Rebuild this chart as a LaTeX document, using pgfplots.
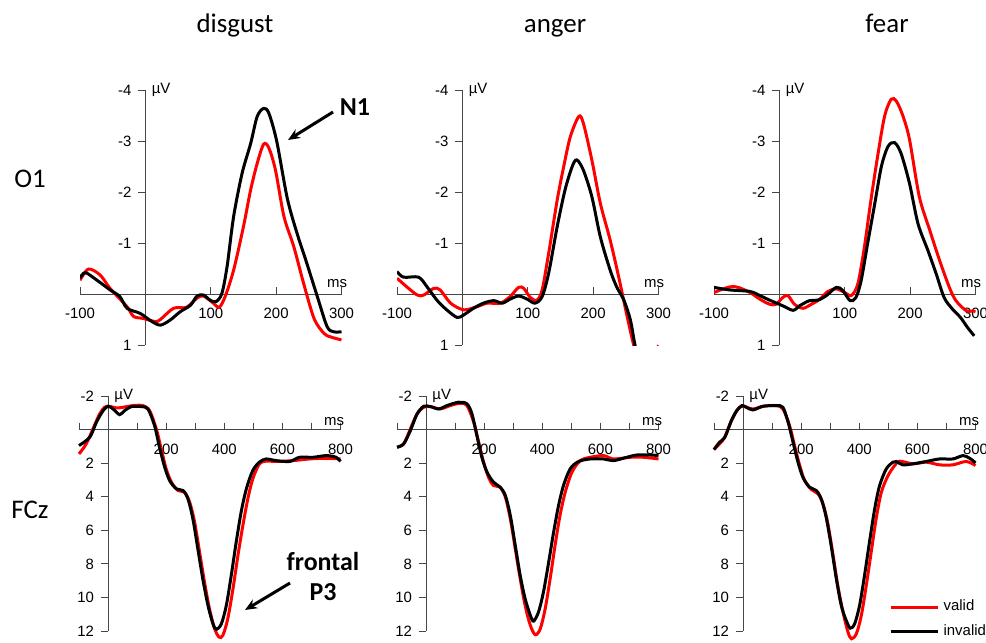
\documentclass[border=0pt]{standalone}
\usepackage{pgfplots}
\pgfplotsset{compat=1.18}
\usepackage{fontspec}
\setmainfont{Liberation Sans}
\newfontfamily\calibri{Carlito}
\usetikzlibrary{arrows.meta}
\definecolor{axgray}{RGB}{70,70,70}
\newcommand{\tickfont}{\fontsize{7.5}{8.5}\selectfont}
\pgfplotsset{
  erp/.style={
    scale only axis, clip=true, clip mode=individual,
    axis lines=middle,
    axis line style={-, axgray, line width=0.5bp},
    every inner x axis line/.append style={-},
    every inner y axis line/.append style={-},
    y dir=reverse,
    tick style={axgray, line width=0.5bp},
    tick align=outside,
    major tick length=3.5bp,
    tick label style={font=\tickfont},
    /pgf/number format/assume math mode=true,
  },
  top/.style={erp, width=130.75bp, height=127.5bp,
    xmin=-100, xmax=300, ymin=-4, ymax=1,
    xtick={-100,0,100,200,300}, xticklabels={-100,,100,200,300},
    ytick={-4,-3,-2,-1,0,1}, yticklabels={-4,-3,-2,-1,,1},
    anchor=south west},
  bot/.style={erp, width=130.75bp, height=117.5bp, clip=false,
    xmin=-100, xmax=800, ymin=-2, ymax=12,
    xtick={-100,0,100,200,300,400,500,600,700,800}, xticklabels={,,,200,,400,,600,,800},
    ytick={-2,0,2,4,6,8,10,12}, yticklabels={-2,,2,4,6,8,10,12},
    anchor=south west},
  valid/.style={red, line width=1.5bp, smooth},
  invalid/.style={black, line width=1.5bp, smooth},
}
\begin{document}
\begin{tikzpicture}[x=0.5bp,y=-0.5bp]
\useasboundingbox (0,0) rectangle (986,643);

% ---------- O1 disgust ----------
\begin{axis}[top, at={(40bp,-172.5bp)}]
\addplot[valid] table {
-100 -0.27
-87 -0.49
-69 -0.37
-54 -0.11
-28 0.25
-18 0.44
-3 0.48
15 0.54
23 0.50
43 0.28
63 0.26
79 0.08
89 0.04
104 0.18
113 0.26
122 0.05
135 -0.47
150 -1.32
161 -2.04
171 -2.56
181 -2.94
189 -2.86
199 -2.43
212 -1.52
227 -0.93
242 -0.21
258 0.48
273 0.77
283 0.84
300 0.90
};
\addplot[invalid] table {
-100 -0.31
-92 -0.42
-74 -0.27
-54 -0.08
-39 0.05
-28 0.28
-8 0.38
10 0.54
23 0.61
38 0.51
53 0.35
69 0.22
79 0.04
89 0.02
99 0.12
108 0.15
117 -0.01
125 -0.54
135 -1.52
148 -2.37
161 -2.95
171 -3.48
181 -3.64
189 -3.54
201 -2.99
217 -1.88
232 -1.19
247 -0.60
263 0.05
278 0.64
288 0.74
300 0.74
};
\node[anchor=west, font=\tickfont, inner sep=0pt] at (axis cs:0,-4) [xshift=3bp] {µV};
\node[anchor=south east, font=\tickfont, inner sep=0pt] at (axis cs:300,0) [xshift=3bp, yshift=3bp] {ms};
\end{axis}

% ---------- O1 anger ----------
\begin{axis}[top, at={(198.5bp,-172.5bp)}]
\addplot[valid] table {
-100 -0.31
-85 -0.14
-69 0.02
-59 0.02
-44 -0.11
-34 -0.08
-18 0.18
2 0.31
22 0.25
38 0.18
58 0.18
73 0.05
86 -0.13
94 -0.11
104 0.07
114 0.12
122 -0.08
132 -0.80
145 -1.84
155 -2.50
165 -3.08
178 -3.48
185 -3.35
198 -2.63
211 -1.78
226 -1.06
239 -0.34
252 0.44
262 1.00
275 1.60
290 1.40
300 1.00
};
\addplot[invalid] table {
-100 -0.44
-90 -0.33
-67 -0.33
-54 -0.14
-39 0.12
-24 0.31
-8 0.46
2 0.41
17 0.28
32 0.18
48 0.13
61 0.18
73 0.10
86 0.04
99 0.10
111 0.18
122 0.05
132 -0.41
145 -1.32
157 -2.04
168 -2.50
175 -2.63
185 -2.43
198 -1.91
211 -1.12
226 -0.47
236 -0.14
247 0.12
257 0.51
264 1.00
275 1.60
};
\node[anchor=west, font=\tickfont, inner sep=0pt] at (axis cs:0,-4) [xshift=3bp] {µV};
\node[anchor=south east, font=\tickfont, inner sep=0pt] at (axis cs:300,0) [xshift=3bp, yshift=3bp] {ms};
\end{axis}

% ---------- O1 fear ----------
\begin{axis}[top, at={(357bp,-172.5bp)}]
\addplot[valid] table {
-100 -0.03
-76 -0.14
-63 -0.13
-45 -0.03
-30 0.10
-15 0.20
-5 0.20
5 0.07
13 0.03
23 0.20
36 0.28
49 0.20
62 0.10
74 -0.05
87 -0.10
100 -0.03
110 0.03
120 -0.20
130 -0.92
140 -1.84
151 -2.76
161 -3.49
171 -3.82
179 -3.78
189 -3.49
199 -3.03
214 -1.91
230 -1.25
245 -0.66
260 -0.13
270 0.13
286 0.33
296 0.33
300 0.35
};
\addplot[invalid] table {
-100 -0.13
-76 -0.08
-45 -0.05
-30 0.03
-15 0.12
5 0.23
21 0.32
31 0.23
46 0.13
59 0.12
72 0.03
87 -0.13
97 -0.07
108 0.13
117 0.07
125 -0.26
135 -0.99
146 -1.78
156 -2.50
166 -2.89
176 -2.97
186 -2.76
199 -2.17
212 -1.38
227 -0.86
240 -0.39
252 0.07
265 0.30
277 0.46
288 0.66
298 0.82
};
\node[anchor=west, font=\tickfont, inner sep=0pt] at (axis cs:0,-4) [xshift=3bp] {µV};
\node[anchor=south east, font=\tickfont, inner sep=0pt] at (axis cs:300,0) [xshift=3bp, yshift=3bp] {ms};
\end{axis}

% ---------- FCz disgust ----------
\begin{axis}[bot, at={(39.5bp,-315.5bp)}]
\addplot[valid] table {
-100 1.45
-75 0.85
-52 -0.04
-29 -0.93
-12 -1.33
5 -1.39
28 -1.29
51 -1.33
86 -1.43
120 -1.43
143 -1.13
166 -0.04
183 1.15
200 2.34
218 3.13
241 3.63
263 3.73
281 4.33
298 5.52
315 7.30
332 9.09
349 10.67
367 11.87
382 12.36
395 12.26
412 11.27
430 9.48
447 7.50
464 5.71
481 4.13
498 2.94
521 2.04
544 1.88
579 1.90
636 1.85
693 1.75
751 1.71
800 1.75
};
\addplot[invalid] table {
-100 0.95
-63 0.46
-40 -0.44
-17 -1.13
0 -1.39
17 -1.23
40 -0.89
57 -1.13
80 -1.37
114 -1.37
137 -1.23
160 -0.24
177 1.05
195 2.24
212 3.04
235 3.53
258 3.63
275 4.13
292 5.32
309 7.10
326 8.89
344 10.48
361 11.57
373 11.90
390 11.57
407 10.48
424 8.69
441 6.71
458 4.92
476 3.53
498 2.44
521 1.94
544 1.75
579 1.85
625 1.90
659 1.65
705 1.65
751 1.55
785 1.65
800 1.90
};
\node[anchor=west, font=\tickfont, inner sep=0pt] at (axis cs:0,-2) [xshift=3bp] {µV};
\node[anchor=south east, font=\tickfont, inner sep=0pt] at (axis cs:800,0) [xshift=2bp, yshift=2bp] {ms};
\end{axis}

% ---------- FCz anger ----------
\begin{axis}[bot, at={(198.5bp,-315.5bp)}]
\addplot[valid] table {
-100 1.05
-77 0.85
-54 -0.04
-31 -0.93
-8 -1.33
15 -1.37
49 -1.23
83 -1.43
118 -1.57
141 -1.43
164 -0.44
181 0.75
198 1.94
215 2.84
232 3.33
255 3.43
273 4.03
290 5.32
307 7.10
324 8.89
341 10.48
359 11.67
376 12.22
393 11.87
410 10.67
427 8.89
444 6.90
461 5.12
479 3.73
502 2.54
531 1.85
565 1.65
611 1.55
645 1.75
703 1.65
749 1.65
800 1.75
};
\addplot[invalid] table {
-100 1.05
-77 0.85
-54 0.06
-31 -0.93
-8 -1.39
15 -1.37
43 -1.23
72 -1.43
112 -1.63
141 -1.53
158 -0.93
175 0.36
192 1.65
210 2.54
232 3.13
255 3.43
273 3.93
290 5.12
307 6.90
324 8.69
341 10.08
359 11.07
370 11.41
387 10.87
404 9.68
422 7.90
439 6.11
456 4.52
473 3.33
496 2.34
525 1.90
565 1.75
611 1.75
645 1.85
691 1.65
726 1.51
771 1.51
800 1.55
};
\node[anchor=west, font=\tickfont, inner sep=0pt] at (axis cs:0,-2) [xshift=3bp] {µV};
\node[anchor=south east, font=\tickfont, inner sep=0pt] at (axis cs:800,0) [xshift=2bp, yshift=2bp] {ms};
\end{axis}

% ---------- FCz fear ----------
\begin{axis}[bot, at={(357bp,-315.5bp)},
  legend style={draw=none, fill=none, at={(axis description cs:0.67,0.15)}, anchor=north west,
    font=\tickfont, row sep=1.5bp, inner sep=0pt, cells={anchor=west}},
  legend image code/.code={\draw[#1] (0bp,0bp) -- (23.5bp,0bp);}]
\addplot[valid] table {
-100 1.19
-81 0.85
-63 0.46
-40 -0.54
-17 -1.23
0 -1.39
34 -1.23
69 -1.39
114 -1.43
137 -1.23
160 -0.24
177 0.95
195 2.14
212 3.04
235 3.57
258 3.83
275 4.42
292 5.62
309 7.40
326 9.29
344 10.87
361 12.06
373 12.46
390 12.16
407 11.07
424 9.29
441 7.30
458 5.32
476 3.73
499 2.74
522 2.14
539 1.88
585 2.04
630 1.94
676 2.10
722 2.10
768 1.90
800 2.14
};
\addlegendentry{valid}
\addplot[invalid] table {
-100 1.19
-81 0.75
-63 0.46
-40 -0.54
-22 -1.13
-4 -1.43
11 -1.33
34 -1.17
69 -1.39
114 -1.43
137 -1.33
155 -0.44
172 0.75
189 1.94
206 2.84
229 3.43
252 3.63
269 4.13
286 5.22
304 7.00
321 8.89
338 10.48
355 11.37
369 11.83
384 11.57
401 10.48
418 8.69
435 6.71
453 4.72
470 3.33
493 2.34
516 1.94
527 1.90
550 2.10
585 2.04
630 1.90
676 1.75
722 1.75
757 1.55
780 1.71
800 1.98
};
\addlegendentry{invalid}
\node[anchor=west, font=\tickfont, inner sep=0pt] at (axis cs:0,-2) [xshift=3bp] {µV};
\node[anchor=south east, font=\tickfont, inner sep=0pt] at (axis cs:800,0) [xshift=2bp, yshift=2bp] {ms};
\end{axis}

% ---------- titles & annotations ----------
\begin{scope}[every node/.style={font=\calibri\fontsize{13.5}{15}\selectfont, inner sep=0pt, anchor=base}]
\node at (235,33) {disgust};
\node at (555,33) {anger};
\node at (887,33) {fear};
\node at (30,188) {O1};
\node at (30,518) {FCz};
\end{scope}
\begin{scope}[every node/.style={font=\calibri\bfseries\fontsize{13}{15}\selectfont, inner sep=0pt}]
\node at (355,107) {N1};
\node at (323,562) {frontal};
\node at (323,592) {P3};
\end{scope}
\draw[line width=1.5bp, -{Stealth[length=6bp,width=5bp]}] (333,112) -- (288,140);
\draw[line width=1.5bp, -{Stealth[length=6bp,width=5bp]}] (290,583) -- (245,610);
\end{tikzpicture}
\end{document}
